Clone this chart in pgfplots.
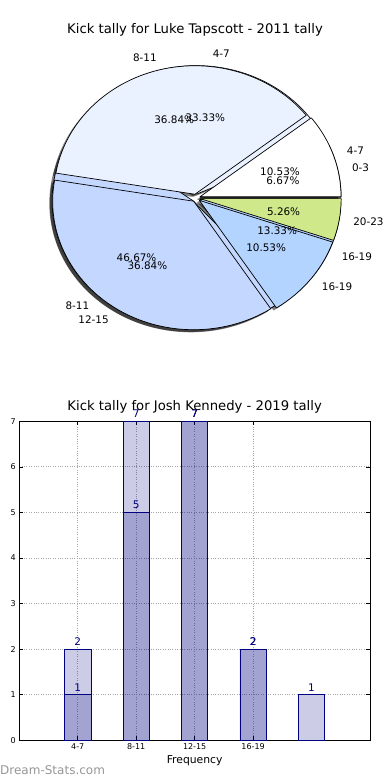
\documentclass[border=0pt]{standalone}
\usepackage{fontspec}
\setmainfont{DejaVu Sans}
\usepackage{pgfplots}
\usepackage{pgfplotstable}
\pgfplotsset{compat=1.18}
\pgfkeys{/pgf/number format/assume math mode=true}

\definecolor{cA}{HTML}{FFFFFF}
\definecolor{cB}{HTML}{EAF1FF}
\definecolor{cC}{HTML}{C4D8FF}
\definecolor{cD}{HTML}{B3D4FF}
\definecolor{cE}{HTML}{CFE98A}
\definecolor{navy}{RGB}{0,0,128}
\definecolor{wm}{RGB}{150,150,150}

% Luke Tapscott 2011 (drawn on top)
\pgfplotstableread{
label value color
4-7 2 cA
8-11 7 cB
12-15 7 cC
16-19 2 cD
20-23 1 cE
}\pieOne
% second overlaid pie
\pgfplotstableread{
label value color
0-3 1 cA
4-7 5 cB
8-11 7 cC
16-19 2 cD
}\pieTwo

\newcommand\RX{141}
\newcommand\RY{128.5}
\newcommand\EXPL{0.03}
\newcommand\pielabelfont{\fontsize{10.4bp}{12bp}\selectfont}

\newcommand\piesetup[1]{%
  \pgfplotstablegetrowsof{#1}%
  \pgfmathtruncatemacro\pieN{\pgfplotsretval-1}%
  \def\pietotal{0}%
  \pgfplotsforeachungrouped \i in {0,...,\pieN}{%
    \pgfplotstablegetelem{\i}{value}\of{#1}%
    \pgfmathsetmacro\pietotal{\pietotal+\pgfplotsretval}}%
}
% #2: 0 = shadows, 1 = wedges, 2 = texts
\newcommand\drawpie[2]{%
  \piesetup{#1}%
  \def\piecum{0}%
  \pgfplotsforeachungrouped \i in {0,...,\pieN}{%
    \pgfplotstablegetelem{\i}{value}\of{#1}\let\pieV\pgfplotsretval
    \pgfplotstablegetelem{\i}{color}\of{#1}\let\pieC\pgfplotsretval
    \pgfplotstablegetelem{\i}{label}\of{#1}\let\pieL\pgfplotsretval
    \pgfmathsetmacro\pieA{360*\piecum/\pietotal}%
    \pgfmathsetmacro\piecum{\piecum+\pieV}%
    \pgfmathsetmacro\pieB{360*\piecum/\pietotal}%
    \pgfmathsetmacro\pieM{(\pieA+\pieB)/2}%
    \pgfmathsetmacro\pieCos{cos(\pieM)}%
    \pgfmathsetmacro\pieSin{sin(\pieM)}%
    \pgfmathsetmacro\pieSX{\EXPL*\RX*\pieCos}%
    \pgfmathsetmacro\pieSY{\EXPL*\RY*\pieSin}%
    \ifcase#2
      \pgfmathsetmacro\pieSX{\pieSX-0.02*\RX}%
      \pgfmathsetmacro\pieSY{\pieSY-0.02*\RY}%
      \edef\tmp{\noexpand\fill[black, fill opacity=0.5] (axis cs:\pieSX,\pieSY) -- ++(\pieA:\RX bp and \RY bp) arc[start angle=\pieA, end angle=\pieB, x radius=\RX bp, y radius=\RY bp] -- cycle;}%
    \or
      \edef\tmp{\noexpand\filldraw[fill=\pieC, draw=black, line width=0.7bp, line join=round] (axis cs:\pieSX,\pieSY) -- ++(\pieA:\RX bp and \RY bp) arc[start angle=\pieA, end angle=\pieB, x radius=\RX bp, y radius=\RY bp] -- cycle;}%
    \or
      \pgfmathsetmacro\pieP{100*\pieV/\pietotal}%
      \pgfmathsetmacro\pieLX{\pieSX+1.1*\RX*\pieCos}%
      \pgfmathsetmacro\pieLY{\pieSY+1.1*\RY*\pieSin}%
      \pgfmathsetmacro\pieTX{\pieSX+0.6*\RX*\pieCos}%
      \pgfmathsetmacro\pieTY{\pieSY+0.6*\RY*\pieSin}%
      \ifdim\pieCos pt>0pt \def\pieAnc{west}\else\def\pieAnc{east}\fi
      \edef\tmp{\noexpand\node[font=\noexpand\pielabelfont, anchor=\pieAnc, inner sep=0pt] at (axis cs:\pieLX,\pieLY) {\pieL};%
        \noexpand\node[font=\noexpand\pielabelfont, inner sep=0pt] at (axis cs:\pieTX,\pieTY) {\noexpand\pgfmathprintnumber[fixed,fixed zerofill,precision=2]{\pieP}\noexpand\%};}%
    \fi
    \tmp
  }%
}

\begin{document}
\begin{tikzpicture}
\path[use as bounding box] (0,0) rectangle (390bp,780bp);

\node[font=\fontsize{13.2bp}{15bp}\selectfont, inner sep=0pt] at (195bp,750bp) {Kick tally for Luke Tapscott - 2011 tally};

\begin{axis}[at={(0bp,382bp)}, anchor=south west, x=1bp, y=1bp,
  xmin=-196, xmax=194, ymin=-200, ymax=180, hide axis, clip=false]
\drawpie{\pieTwo}{0}
\drawpie{\pieOne}{0}
\drawpie{\pieTwo}{1}
\drawpie{\pieOne}{1}
\drawpie{\pieTwo}{2}
\drawpie{\pieOne}{2}
\end{axis}

\begin{axis}[at={(19.3bp,39.7bp)}, anchor=south west, scale only axis,
  width=350.7bp, height=319bp,
  xmin=-1, xmax=5, ymin=0, ymax=7,
  ybar, bar width=0.45, bar shift=0pt,
  xtick={0,1,2,3}, xticklabels={4-7,8-11,12-15,16-19},
  ytick={0,1,2,3,4,5,6,7},
  tick align=inside, major tick length=4bp,
  tick style={black, line width=0.6bp},
  grid=major, grid style={dotted, gray!70, line width=0.8bp},
  axis line style={black, line width=0.8bp},
  tick label style={font=\fontsize{8bp}{9bp}\selectfont},
  xlabel=Frequency,
  xlabel style={font=\fontsize{10.8bp}{12bp}\selectfont, at={(axis description cs:0.5,0)}, anchor=center, yshift=-20.5bp},
  title={Kick tally for Josh Kennedy - 2019 tally},
  title style={font=\fontsize{13.2bp}{15bp}\selectfont, at={(axis description cs:0.5,1)}, anchor=center, yshift=8bp},
  nodes near coords,
  every node near coord/.append style={text=navy, text opacity=1, font=\fontsize{10.5bp}{12bp}\selectfont},
  clip=false]
\addplot[fill=navy, fill opacity=0.2, draw=navy, line width=0.8bp] coordinates {(0,2) (1,7) (2,7) (3,2) (4,1)};
\addplot[fill=navy, fill opacity=0.2, draw=navy, line width=0.8bp] coordinates {(0,1) (1,5) (2,7) (3,2)};
\end{axis}

\node[anchor=west, inner sep=0pt, text=wm, font=\fontsize{12bp}{14bp}\selectfont] at (0bp,10bp) {Dream-Stats.com};
\end{tikzpicture}
\end{document}
